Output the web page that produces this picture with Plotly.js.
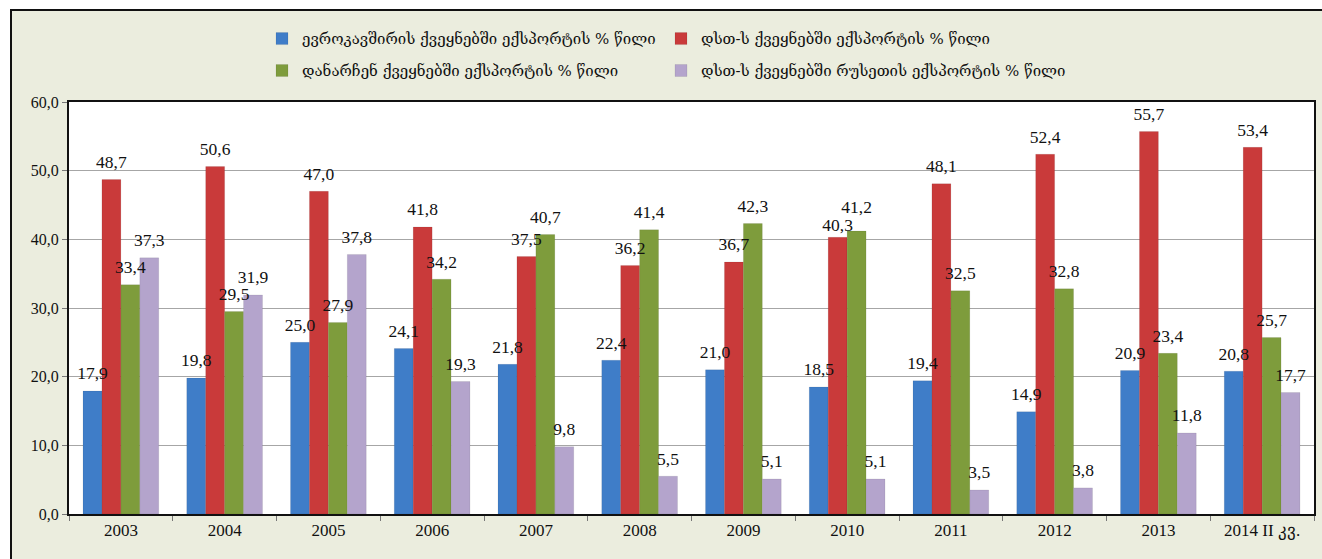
<!DOCTYPE html>
<html>
<head>
<meta charset="utf-8">
<script src="https://cdn.plot.ly/plotly-3.0.1.min.js"></script>
<style>
  html, body { margin: 0; padding: 0; background: #ffffff; }
  #frame { position: absolute; left: 10px; top: 9px; width: 1312px; height: 550px;
           background: #EBEDDE; border-left: 2px solid #111; border-top: 2px solid #111; box-sizing: border-box; }
  #chart { position: absolute; left: 0; top: 0; width: 1322px; height: 559px; }
</style>
</head>
<body>
<div id="frame"></div>
<div id="chart"></div>
<script>
const categories = ["2003","2004","2005","2006","2007","2008","2009","2010","2011","2012","2013","2014 II კვ."];
const seriesNames = [
  "ევროკავშირის ქვეყნებში ექსპორტის % წილი",
  "დსთ-ს ქვეყნებში ექსპორტის % წილი",
  "დანარჩენ ქვეყნებში ექსპორტის % წილი",
  "დსთ-ს ქვეყნებში რუსეთის ექსპორტის % წილი"
];
const euShare    = [17.9, 19.8, 25.0, 24.1, 21.8, 22.4, 21.0, 18.5, 19.4, 14.9, 20.9, 20.8];
const cisShare   = [48.7, 50.6, 47.0, 41.8, 37.5, 36.2, 36.7, 40.3, 48.1, 52.4, 55.7, 53.4];
const otherShare = [33.4, 29.5, 27.9, 34.2, 40.7, 41.4, 42.3, 41.2, 32.5, 32.8, 23.4, 25.7];
const russiaShare= [37.3, 31.9, 37.8, 19.3, 9.8, 5.5, 5.1, 5.1, 3.5, 3.8, 11.8, 17.7];

const colors = ["#3F7DC8", "#C93A3A", "#7E9C3C", "#B4A4CC"];
const values = [euShare, cisShare, otherShare, russiaShare];
const legendIds = ["legend", "legend2", "legend3", "legend4"];

const barTraces = values.map((v, i) => ({
  type: "bar",
  name: seriesNames[i],
  x: categories,
  y: v,
  legend: legendIds[i],
  marker: { color: colors[i], line: { color: "rgba(0,0,0,0.15)", width: 0.5 } },
  hoverinfo: "skip"
}));

// label gap above each bar (invisible marker size); 2010 red/green labels staggered as in the source
const labelGap = values.map((v, i) => categories.map((c, j) => {
  if (c === "2010" && i === 1) return 1;
  if (c === "2010" && i === 2) return 20;
  return 10;
}));

// value labels drawn on top of all bars, grouped like the bars
const labelTraces = values.map((v, i) => ({
  type: "scatter",
  mode: "markers+text",
  x: categories,
  y: v,
  showlegend: false,
  marker: { size: labelGap[i], opacity: 0 },
  texttemplate: "%{y:.1f}",
  textposition: "top center",
  cliponaxis: false,
  textfont: { family: "Liberation Serif, serif", size: 17.5, color: "#111" },
  hoverinfo: "skip"
}));

const legendFont = { family: "DejaVu Serif, DejaVu Sans, sans-serif", size: 15, color: "#111" };
function legendAt(xpx, ytop) {
  return {
    orientation: "h", xref: "container", yref: "container",
    x: xpx / 1322, y: ytop, xanchor: "left", yanchor: "top",
    itemwidth: 30, bgcolor: "rgba(0,0,0,0)", font: legendFont
  };
}

const layout = {
  width: 1322, height: 559,
  paper_bgcolor: "rgba(0,0,0,0)",
  plot_bgcolor: "#ffffff",
  margin: { l: 69, r: 8, t: 102, b: 45 },
  separators: ",.",
  barmode: "group",
  bargap: 0.27,
  bargroupgap: 0,
  scattermode: "group",
  scattergap: 0.27,
  xaxis: {
    type: "category",
    tickson: "boundaries",
    ticks: "outside", ticklen: 5, tickcolor: "#777",
    showline: true, linecolor: "#111", linewidth: 2, mirror: true,
    tickfont: { family: "Liberation Serif, serif", size: 17, color: "#111" },
    showgrid: false
  },
  yaxis: {
    range: [0, 60], dtick: 10, tickformat: ".1f",
    ticks: "outside", ticklen: 5, tickcolor: "#777",
    showline: true, linecolor: "#111", linewidth: 2, mirror: true,
    gridcolor: "#A6A6A6", gridwidth: 1,
    zeroline: false,
    tickfont: { family: "Liberation Serif, serif", size: 16, color: "#111" }
  },
  legend: legendAt(262, 0.96),
  legend2: legendAt(661, 0.96),
  legend3: legendAt(262, 0.903),
  legend4: legendAt(661, 0.903),
  showlegend: true
};

Plotly.newPlot("chart", barTraces.concat(labelTraces), layout, { displayModeBar: false, staticPlot: true });
</script>
</body>
</html>
